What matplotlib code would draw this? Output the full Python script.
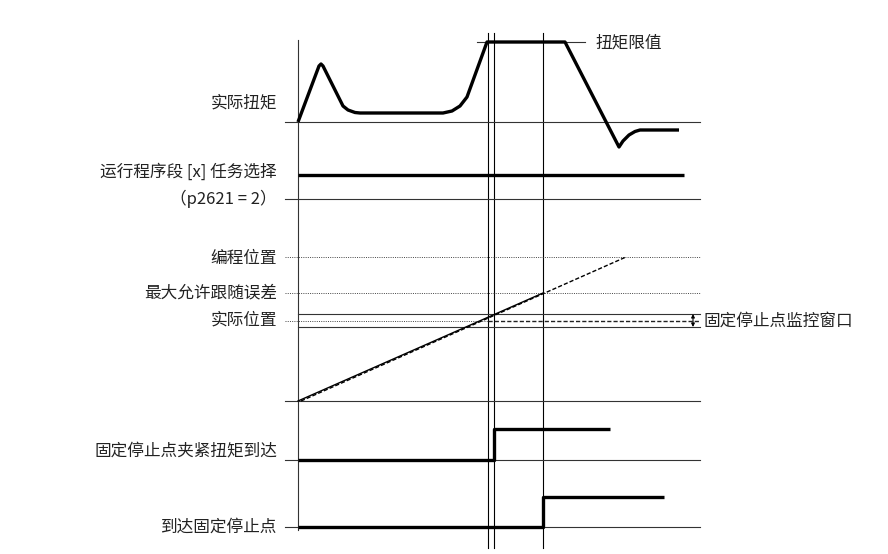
import matplotlib.pyplot as plt

plt.rcParams['font.family'] = ['Noto Sans CJK SC', 'DejaVu Sans']

# 时间轴: t=0 为纵轴位置, 单位为像素宽度
# 各通道的数值: 相对基线向上的高度
torque_t = [0, 21, 23, 25, 45, 50, 57, 62, 145, 154, 162, 169, 189, 267, 321, 325, 331, 337, 342, 381]
torque_v = [0, 56, 58, 56, 16, 12, 9.5, 9, 9, 11, 16, 25, 80, 80, -25, -19, -13, -9.5, -8, -8]
torque_limit = 80

prog_t = [0, 386]
prog_v = [24, 24]

actual_t = [0, 245]
actual_v = [0, 108]
setpoint_t = [3, 328]
setpoint_v = [0, 144]
pos_programmed = 144
pos_max_err = 108
pos_actual = 80.5
window_half = 6.5

clamp_t = [0, 196, 196, 312]
clamp_v = [0, 0, 31, 31]
reached_t = [0, 245, 245, 366]
reached_v = [0, 0, 30, 30]

t_marks = [190, 196, 245]

row_labels = ['实际扭矩', '运行程序段 [x] 任务选择', '（p2621 = 2）', '编程位置',
              '最大允许跟随误差', '实际位置', '固定停止点夹紧扭矩到达', '到达固定停止点']

# 布局
X0 = 298
BASE_TORQUE = 122
BASE_PROG = 199
BASE_POS = 401
BASE_CLAMP = 460
BASE_REACH = 527
X_LEFT = 285
X_RIGHT = 700

fig = plt.figure(figsize=(8.88, 5.54), dpi=100)
ax = fig.add_axes([0, 0, 1, 1])
ax.set_xlim(0, 888)
ax.set_ylim(554, 0)
ax.axis('off')

thin = dict(color='#333333', lw=0.8)
thick = dict(color='black', lw=2.4, solid_joinstyle='round', solid_capstyle='butt')

# 纵轴和时间标记线
ax.plot([X0, X0], [40, 530], **thin)
for t in t_marks:
    ax.plot([X0 + t, X0 + t], [33, 548], color='black', lw=0.8)

# 基线
for b in [BASE_TORQUE, BASE_PROG, BASE_POS, BASE_CLAMP, BASE_REACH]:
    ax.plot([X_LEFT, X_RIGHT], [b, b], **thin)

# 实际扭矩
ax.plot([X0 + 179, X0 + 287], [BASE_TORQUE - torque_limit] * 2, **thin)
ax.plot([X0 + t for t in torque_t], [BASE_TORQUE - v for v in torque_v], **thick)
ax.text(X0 + 297, BASE_TORQUE - torque_limit + 1, '扭矩限值', fontsize=12,
        ha='left', va='center', color='#222222')

# 运行程序段
ax.plot([X0 + t for t in prog_t], [BASE_PROG - v for v in prog_v], **thick)

# 位置
dotted = dict(color='#444444', lw=0.7, linestyle=(0, (1, 1.3)))
ax.plot([X_LEFT, X_RIGHT], [BASE_POS - pos_programmed] * 2, **dotted)
ax.plot([X_LEFT, X_RIGHT], [BASE_POS - pos_max_err] * 2, **dotted)
ax.plot([X_LEFT, X0 + t_marks[0]], [BASE_POS - pos_actual] * 2, **dotted)
ax.plot([X0 + t_marks[0], X_RIGHT], [BASE_POS - pos_actual] * 2,
        color='#222222', lw=1.0, linestyle=(0, (3, 1.5)))
for s in (-1, 1):
    ax.plot([X0, X_RIGHT], [BASE_POS - pos_actual + s * window_half] * 2, **thin)
ax.plot([X0 + t for t in actual_t], [BASE_POS - v for v in actual_v], color='black', lw=1.0)
ax.plot([X0 + t for t in setpoint_t], [BASE_POS - v for v in setpoint_v],
        color='black', lw=1.0, linestyle=(0, (3, 1.5)))
ax.annotate('', xy=(693, BASE_POS - pos_actual - window_half),
            xytext=(693, BASE_POS - pos_actual + window_half),
            arrowprops=dict(arrowstyle='<|-|>', color='black', lw=0.8,
                            mutation_scale=5, shrinkA=0, shrinkB=0))
ax.text(703, BASE_POS - pos_actual + 0.5, '固定停止点监控窗口', fontsize=12,
        ha='left', va='center', color='#222222')

# 夹紧扭矩到达 / 到达固定停止点
ax.plot([X0 + t for t in clamp_t], [BASE_CLAMP - v for v in clamp_v], **thick)
ax.plot([X0 + t for t in reached_t], [BASE_REACH - v for v in reached_v], **thick)

# 左侧标签
label_y = [103, 172, 199, 258, 293, 320, 452, 527]
for txt, y in zip(row_labels, label_y):
    ax.text(277, y, txt, fontsize=12, ha='right', va='center', color='#222222')

plt.savefig('out.png', dpi=100)
